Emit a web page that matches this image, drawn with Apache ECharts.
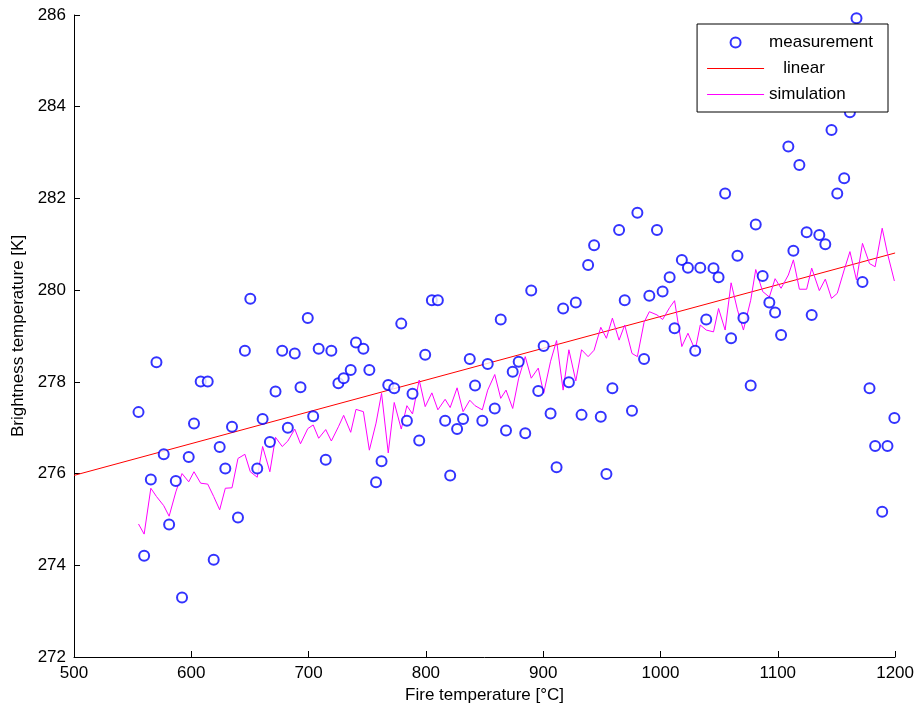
<!DOCTYPE html>
<html>
<head>
<meta charset="utf-8">
<script src="https://cdn.jsdelivr.net/npm/echarts@6/dist/echarts.min.js"></script>
<style>
html,body{margin:0;padding:0;background:#fff;}
#chart{width:917px;height:713px;}
</style>
</head>
<body>
<div id="chart"></div>
<script>
// Fire temperature [°C] for each measurement / simulation sample
var fireTemp = [555.0,559.8,565.5,570.3,576.5,581.1,586.8,592.1,597.8,602.3,608.0,614.0,619.1,624.2,629.0,634.7,639.8,645.7,650.3,656.2,660.8,667.0,671.8,677.5,682.3,688.2,693.1,699.3,703.9,708.6,714.6,719.4,725.4,729.9,735.9,740.4,746.7,751.8,757.5,762.2,767.9,773.0,779.0,783.8,788.6,794.3,799.4,805.1,810.2,816.4,820.7,826.6,831.7,837.4,841.9,848.1,852.7,858.7,863.8,868.3,874.0,879.1,884.7,889.8,895.8,900.4,906.3,911.4,917.0,921.9,927.8,932.7,938.3,943.4,949.1,953.9,959.0,964.7,969.5,975.7,980.3,986.0,990.5,997.0,1001.8,1007.8,1012.0,1018.2,1023.4,1029.6,1033.9,1039.0,1045.2,1049.5,1055.1,1060.2,1065.6,1070.7,1076.9,1081.2,1087.1,1092.8,1097.7,1102.8,1109.0,1113.3,1118.4,1124.6,1128.9,1135.4,1140.5,1145.8,1150.7,1156.6,1161.5,1167.1,1172.2,1178.2,1183.0,1189.0,1193.5,1199.4];

// Measured brightness temperature [K]
var measurement = [277.34,274.21,275.87,278.43,276.42,274.89,275.84,273.30,276.36,277.09,278.01,278.01,274.12,276.58,276.11,277.02,275.04,278.68,279.81,276.11,277.19,276.69,277.79,278.68,277.00,278.62,277.88,279.39,277.25,278.72,276.30,278.68,277.97,278.08,278.26,278.86,278.72,278.26,275.81,276.27,277.93,277.86,279.27,277.15,277.74,276.72,278.59,279.78,279.78,277.15,275.96,276.97,277.19,278.50,277.92,277.15,278.39,277.42,279.36,276.94,278.22,278.44,276.88,279.99,277.80,278.78,277.31,276.14,279.60,277.99,279.73,277.28,280.55,280.98,277.24,275.99,277.86,281.31,279.78,277.37,281.69,278.50,279.88,281.31,279.97,280.28,279.17,280.66,280.49,278.68,280.49,279.36,280.48,280.28,282.11,278.95,280.75,279.39,277.92,281.43,280.31,279.73,279.51,279.02,283.13,280.86,282.73,281.26,279.46,281.20,281.00,283.49,282.11,282.44,283.88,285.93,280.18,277.86,276.60,275.17,276.60,277.21];

// Simulated brightness temperature [K]
var simulation = [274.90,274.68,275.68,275.50,275.30,275.07,275.60,276.00,275.82,276.04,275.79,275.77,275.50,275.21,275.68,275.69,276.33,276.42,276.04,275.92,276.59,276.04,276.79,276.59,276.71,276.97,276.65,276.98,277.06,276.77,276.96,276.71,277.02,277.27,276.90,277.40,277.35,276.51,277.10,277.75,276.45,277.55,276.97,277.48,277.30,278.04,277.46,277.76,277.39,277.62,277.44,277.87,277.35,277.60,277.48,277.39,277.82,278.16,277.64,277.82,277.42,278.08,278.55,278.08,278.30,277.75,278.45,278.90,277.82,278.70,278.02,278.70,278.55,278.69,279.19,278.95,279.39,278.91,279.24,278.62,278.55,279.30,279.53,279.46,279.36,279.62,279.77,278.77,279.06,278.69,279.24,279.13,279.09,279.60,279.13,280.16,279.57,279.13,279.78,280.45,279.97,279.85,280.25,280.04,280.33,280.66,280.02,280.02,280.48,279.99,280.24,279.82,279.93,280.44,280.84,280.22,281.02,280.58,280.51,281.35,280.80,280.20];

// Linear fit end points
var linearX = [500, 1200];
var linearY = [275.96, 280.81];

// Axis tick settings
var xTicks = {min: 500, max: 1200, step: 100};
var yTicks = {min: 272, max: 286, step: 2};

function pairs(xs, ys) {
  var out = [];
  for (var i = 0; i < ys.length; i++) out.push([xs[i], ys[i]]);
  return out;
}

var FONT = 'Liberation Sans';
var FS = 17;
var LINE_ICON = 'path://M0,0L57,0L57,1L0,1Z';
var chart = echarts.init(document.getElementById('chart'), null, {renderer: 'canvas'});
function axisCommon() {
  return {
    axisLine: {show: true, onZero: false, lineStyle: {color: '#000', width: 1}},
    axisTick: {show: true, inside: true, length: 6, lineStyle: {color: '#000'}},
    axisLabel: {color: '#000', fontFamily: FONT, fontSize: FS, formatter: function (v) { return String(v); }},
    splitLine: {show: false},
    nameTextStyle: {color: '#000', fontFamily: FONT, fontSize: FS}
  };
}
chart.setOption({
  backgroundColor: '#fff',
  animation: false,
  grid: {left: 74, right: 20, top: 15, bottom: 56, containLabel: false},
  legend: {
    show: true,
    orient: 'vertical',
    right: 29,
    top: 24,
    padding: [10, 15, 9, 10],
    itemWidth: 57,
    itemHeight: 10,
    itemGap: 9,
    borderColor: '#000',
    borderWidth: 1,
    borderRadius: 0,
    backgroundColor: '#fff',
    textStyle: {color: '#000', fontFamily: FONT, fontSize: FS},
    formatter: function (name) {
      return name === 'linear' ? '   linear' : name;
    },
    data: [
      {name: 'measurement'},
      {name: 'linear', icon: LINE_ICON},
      {name: 'simulation', icon: LINE_ICON}
    ]
  },
  xAxis: Object.assign(axisCommon(), {
    type: 'value',
    min: xTicks.min, max: xTicks.max, interval: xTicks.step,
    name: 'Fire temperature [°C]',
    nameLocation: 'middle',
    nameGap: 28
  }),
  yAxis: Object.assign(axisCommon(), {
    type: 'value',
    min: yTicks.min, max: yTicks.max, interval: yTicks.step,
    name: 'Brightness temperature [K]',
    nameLocation: 'middle',
    nameRotate: 90,
    nameGap: 34
  }),
  series: [
    {
      name: 'measurement',
      type: 'scatter',
      symbol: 'emptyCircle',
      symbolSize: 10,
      itemStyle: {color: '#0000ff', borderColor: '#0000ff', borderWidth: 1.3},
      data: pairs(fireTemp, measurement),
      z: 3
    },
    {
      name: 'linear',
      type: 'line',
      showSymbol: false,
      symbol: 'none',
      lineStyle: {color: '#ff0000', width: 1},
      itemStyle: {color: '#ff0000'},
      data: pairs(linearX, linearY),
      z: 2
    },
    {
      name: 'simulation',
      type: 'line',
      showSymbol: false,
      symbol: 'none',
      lineStyle: {color: '#ff00ff', width: 1},
      itemStyle: {color: '#ff00ff'},
      data: pairs(fireTemp, simulation),
      z: 2
    }
  ]
});
</script>
</body>
</html>
